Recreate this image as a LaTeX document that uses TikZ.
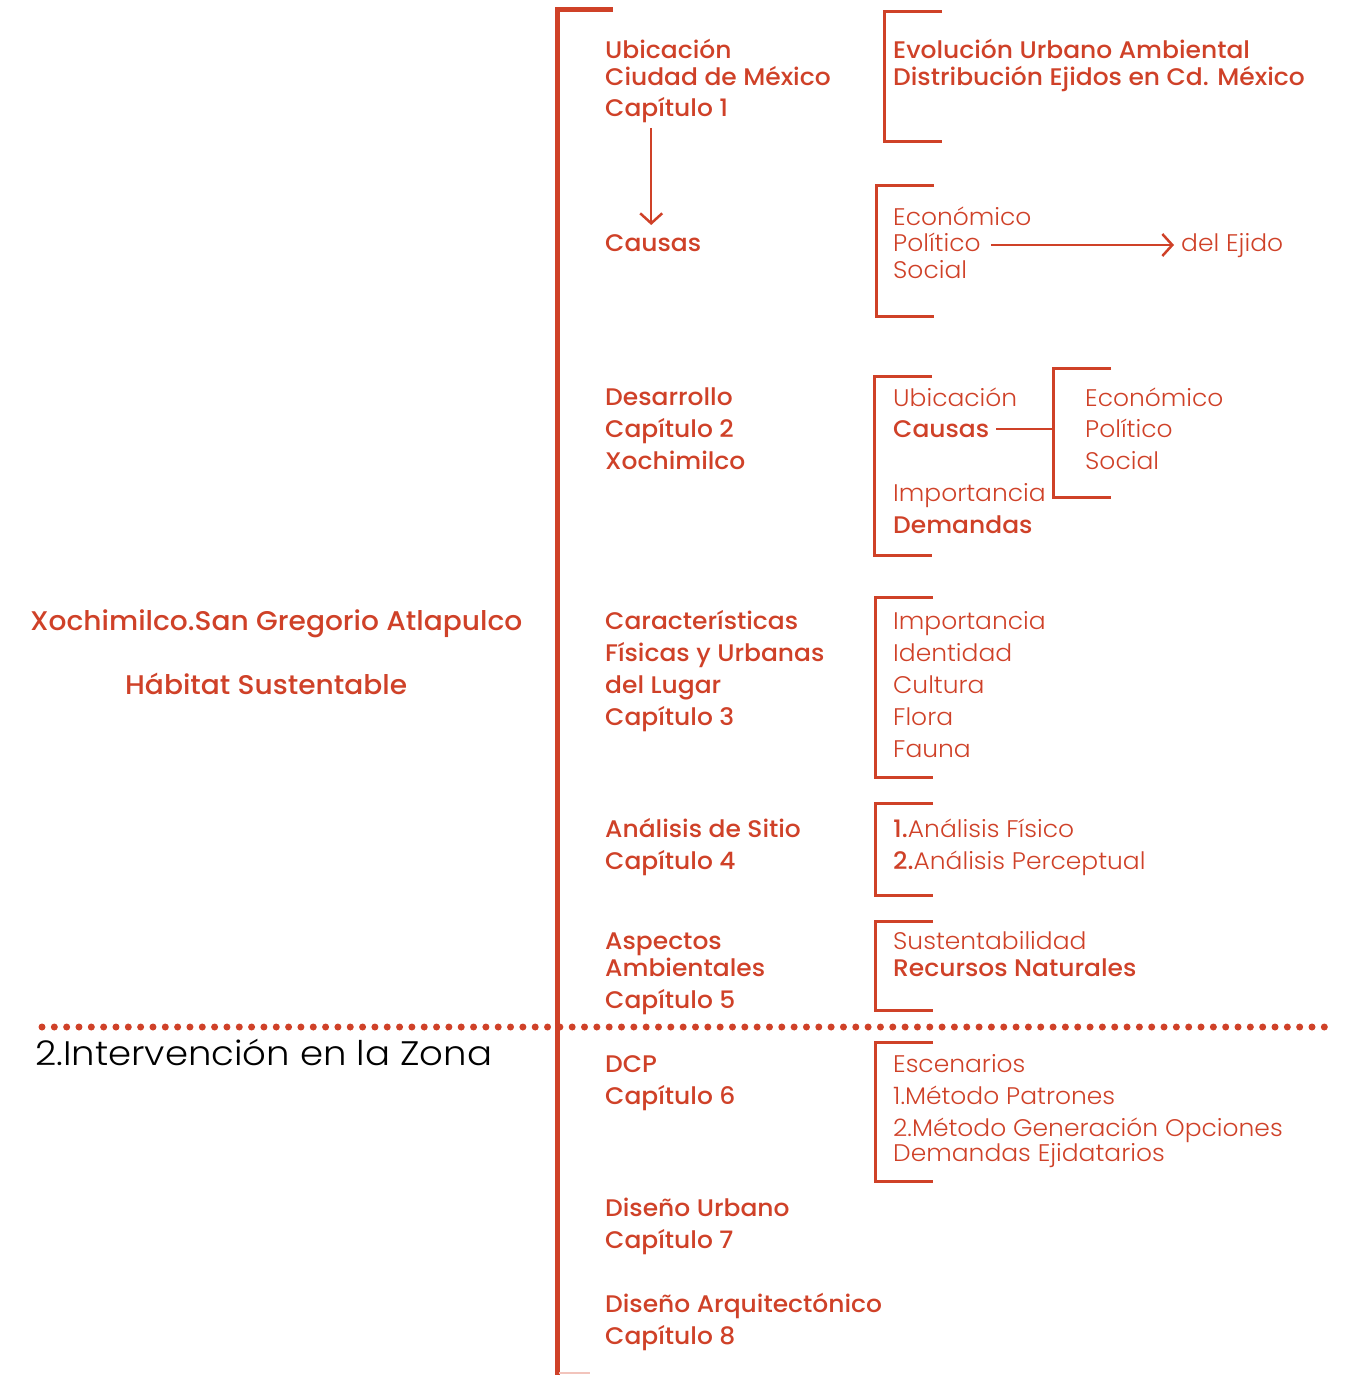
\documentclass[tikz,border=0pt]{standalone}
\usepackage{fontspec}
\usetikzlibrary{arrows.meta}
\setmainfont{Poppins}[UprightFont=* Light, BoldFont=* Medium, FakeStretch=1.04]
\newfontfamily\thinf{Poppins}[UprightFont=* Light, FakeStretch=1.09]
\definecolor{rd}{HTML}{CF4128}
\tikzset{
  tx/.style={anchor=base west, inner sep=0pt, text=rd, font=\fontsize{24}{24}\selectfont},
  tb/.style={anchor=base west, inner sep=0pt, text=rd, font=\bfseries\fontsize{24}{24}\selectfont},
  lb/.style={anchor=base west, inner sep=0pt, text=rd, font=\bfseries\fontsize{27}{27}\selectfont},
  brk/.style={draw=rd, line width=3pt},
  conn/.style={draw=rd, line width=2.5pt},
  arr/.style={conn, -{Straight Barb[length=10pt,width=22pt,line width=2.5pt]}},
}
\begin{document}
\begin{tikzpicture}[x=1pt,y=-1pt]
\useasboundingbox (0,0) rectangle (1349,1375);
% main bar
\draw[rd, line width=5pt] (557,1375) -- (557,10) -- (613,10);
\draw[draw={rgb,255:red,242;green,196;blue,188}, line width=2pt] (559,1373) -- (590,1373);
% dotted separator
\draw[rd, line width=7pt, line cap=round, dash pattern=on 0pt off 12.33pt] (42,1027) -- (1326,1027);
% left titles
\node[lb] (t1) at (30,630) {Xochimilco.San Gregorio Atlapulco};
\node[lb] (t2) at (125,694) {Hábitat Sustentable};
\node[anchor=base west, inner sep=0pt, font=\thinf\fontsize{34}{34}\selectfont] (t3) at (35,1065) {2.Intervención en la Zona};
% column 1
\node[tb] (u1) at (605,59) {Ubicación};
\node[tb] (u2) at (605,86) {Ciudad de México};
\node[tb] (cap1) at (605,117) {Capítulo 1};
\node[tb] (causas1) at (605,251) {Causas};
\draw[arr] ([xshift=-2pt,yshift=-11pt]cap1.base -| causas1.north) -- ([xshift=-2pt,yshift=26pt]causas1.base -| causas1.north);
\node[tb] (d1) at (605,405) {Desarrollo};
\node[tb] (cap2) at (605,437) {Capítulo 2};
\node[tb] (x1) at (605,469) {Xochimilco};
\node[tb] (ca1) at (605,629) {Características};
\node[tb] (ca2) at (605,661) {Físicas y Urbanas};
\node[tb] (ca3) at (605,693) {del Lugar};
\node[tb] (cap3) at (605,725) {Capítulo 3};
\node[tb] (as1) at (605,837) {Análisis de Sitio};
\node[tb] (cap4) at (605,869) {Capítulo 4};
\node[tb] (ap1) at (605,949) {Aspectos};
\node[tb] (ap2) at (605,976) {Ambientales};
\node[tb] (cap5) at (605,1008) {Capítulo 5};
\node[tb] (dcp) at (605,1072) {DCP};
\node[tb] (cap6) at (605,1104) {Capítulo 6};
\node[tb] (du) at (605,1216) {Diseño Urbano};
\node[tb] (cap7) at (605,1248) {Capítulo 7};
\node[tb] (da) at (605,1312) {Diseño Arquitectónico};
\node[tb] (cap8) at (605,1344) {Capítulo 8};
% bracket 1
\draw[brk] (942,12) -- (884,12) -- (884,142) -- (942,142);
\node[tb] (ev) at (893,59) {Evolución Urbano Ambiental};
\node[tb] (di) at (893,86) {Distribución Ejidos en Cd. México};
% bracket 2
\draw[brk] (934,186) -- (876,186) -- (876,316) -- (934,316);
\node[tx] (ec2) at (893,225) {Económico};
\node[tx] (po2) at (893,251) {Político};
\node[tx] (so2) at (893,278) {Social};
\node[tx] (ej) at (1181,251) {del Ejido};
\draw[arr] ([xshift=10pt,yshift=6pt]po2.base east) -- ([xshift=-7pt,yshift=6pt]ej.base west);
% bracket 3
\draw[brk] (932,376) -- (874,376) -- (874,555) -- (932,555);
\node[tx] (ub3) at (893,406) {Ubicación};
\node[tb] (cs3) at (893,437) {Causas};
\node[tx] (im3) at (893,501) {Importancia};
\node[tb] (de3) at (893,533) {Demandas};
% bracket 4
\draw[brk] (1111,368) -- (1053,368) -- (1053,497) -- (1111,497);
\coordinate (b4) at (1053,429);
\draw[conn] ([xshift=7pt,yshift=8pt]cs3.base east) -- (b4);
\node[tx] (ec4) at (1085,406) {Económico};
\node[tx] (po4) at (1085,437) {Político};
\node[tx] (so4) at (1085,469) {Social};
% bracket 5
\draw[brk] (933,597) -- (875,597) -- (875,777) -- (933,777);
\node[tx] (i5) at (893,629) {Importancia};
\node[tx] (id5) at (893,661) {Identidad};
\node[tx] (cu5) at (893,693) {Cultura};
\node[tx] (fl5) at (893,725) {Flora};
\node[tx] (fa5) at (893,757) {Fauna};
% bracket 6
\draw[brk] (933,803) -- (875,803) -- (875,895) -- (933,895);
\node[tx] (af6) at (893,837) {\textbf{1.}Análisis Físico};
\node[tx] (ap6) at (893,869) {\textbf{2.}Análisis Perceptual};
% bracket 7
\draw[brk] (933,921) -- (875,921) -- (875,1010) -- (933,1010);
\node[tx] (su7) at (893,949) {Sustentabilidad};
\node[tb] (rn7) at (893,976) {Recursos Naturales};
% bracket 8
\draw[brk] (933,1042) -- (875,1042) -- (875,1181) -- (933,1181);
\node[tx] (es8) at (893,1072) {Escenarios};
\node[tx] (mp8) at (893,1104) {1.Método Patrones};
\node[tx] (mg8) at (893,1136) {2.Método Generación Opciones};
\node[tx] (de8) at (893,1161) {Demandas Ejidatarios};
\end{tikzpicture}
\end{document}
